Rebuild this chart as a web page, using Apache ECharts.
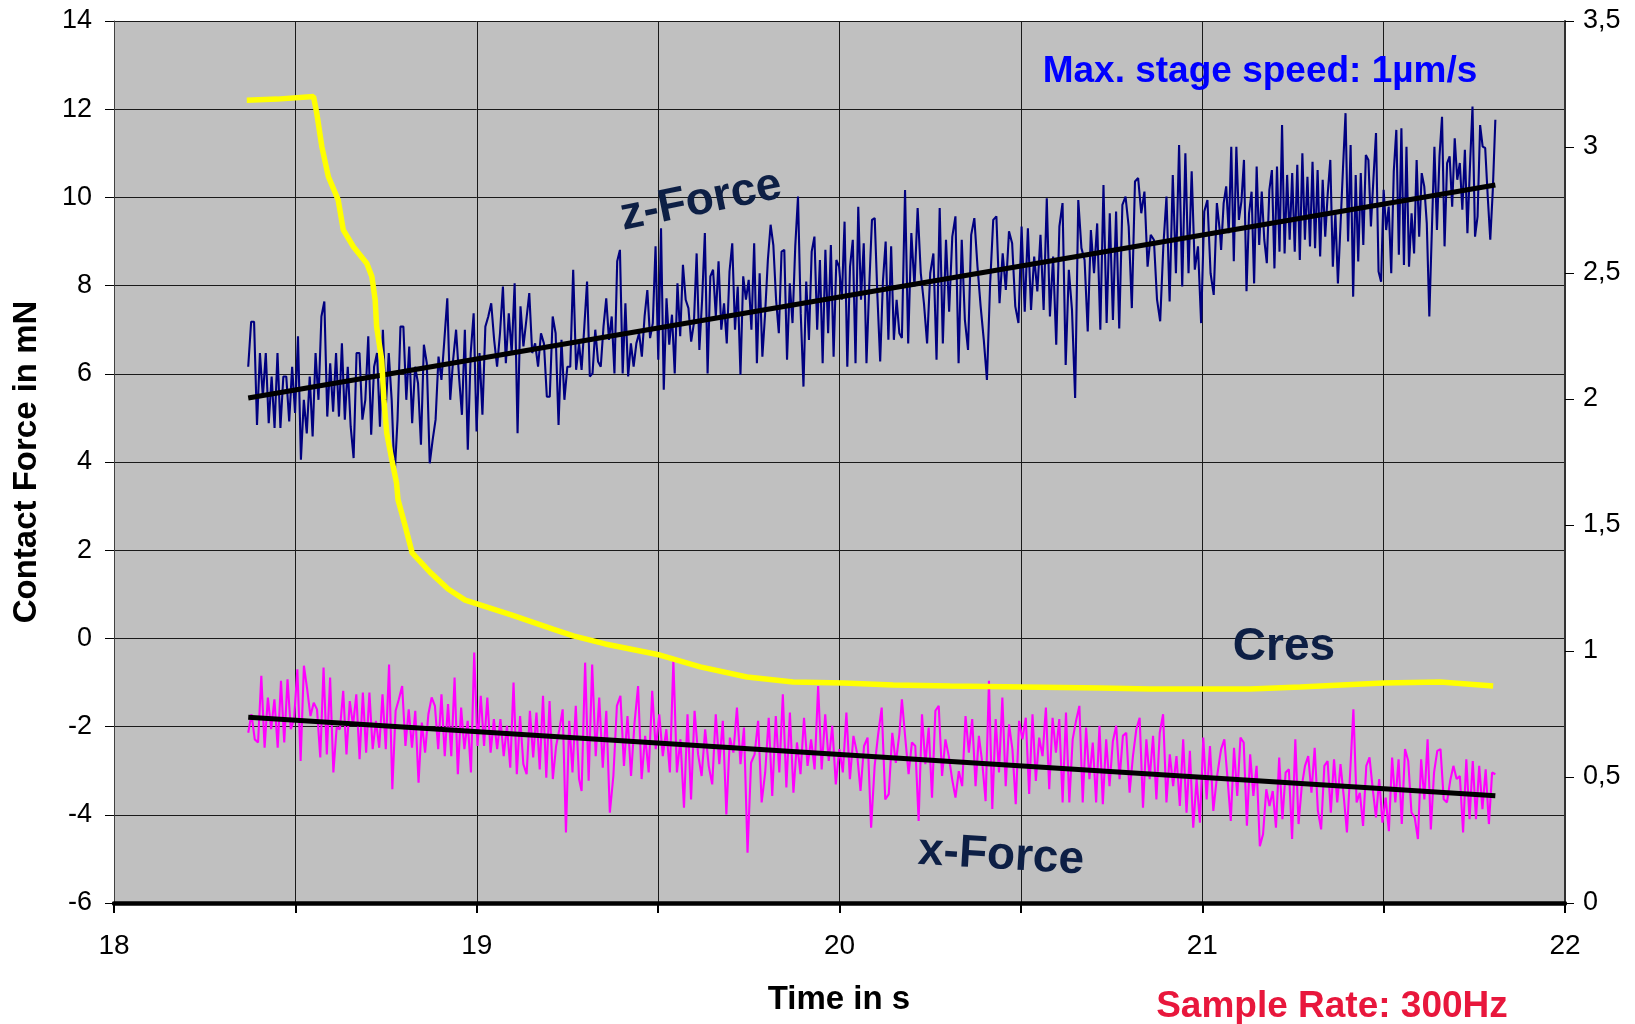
<!DOCTYPE html>
<html>
<head>
<meta charset="utf-8">
<script src="https://cdn.jsdelivr.net/npm/echarts@6/dist/echarts.min.js"></script>
<style>
html,body{margin:0;padding:0;background:#fff;}
#chart{width:1635px;height:1024px;}
</style>
</head>
<body>
<div id="chart"></div>
<script>
// ---------- DATA ----------
// time spans (s) of the four traced segments of the sampled force signals
const segStart = [18.370, 19.289, 20.172, 21.052];
const segEnd   = [19.282, 20.165, 21.049, 21.808];

// z-Force (mN), left axis
const zForce1 = [6.16,7.18,7.18,4.84,6.47,5.48,6.47,4.88,5.94,4.77,6.47,4.77,5.94,5.94,4.92,6.16,5.11,6.85,4.05,5.41,4.65,5.94,4.58,6.47,5.41,7.30,7.64,5.03,6.24,5.14,6.47,5.03,6.69,4.96,6.16,4.80,4.09,6.47,6.47,4.96,5.41,6.85,4.62,6.16,6.47,4.80,7.00,5.26,6.47,5.41,3.67,4.96,7.07,7.07,5.41,6.62,4.88,6.16,5.79,4.39,6.66,6.24,3.97,4.50,4.96,6.39,5.86,6.77,7.71,5.41,6.32,7.00,5.94,5.07,7.00,4.28,6.47,7.37,4.69,6.47,5.07,7.07,7.30,7.60,6.77,6.16,6.92,7.98,6.24,7.37,6.47,8.05,4.65,7.53,6.62,7.22,7.83,6.47,6.69,6.16,6.92,6.69,5.48,5.48,7.30,6.92,4.84,6.77,5.41,6.16,6.16,8.36,6.09,6.69];
const zForce2 = [6.09,7.07,8.09,5.94,6.01,7.00,6.28,6.16,7.07,7.71,6.77,7.30,6.01,8.55,8.81,6.01,7.60,5.94,6.69,6.16,6.69,6.92,6.39,7.30,7.90,6.81,7.15,8.89,6.32,9.30,5.64,7.71,6.66,7.34,6.01,8.05,6.85,8.47,7.68,7.49,6.73,7.15,8.73,6.54,7.68,9.19,6.01,8.21,8.36,7.30,8.55,7.00,7.60,6.69,8.32,8.96,7.00,7.98,5.98,8.21,7.68,8.13,7.00,8.96,6.24,8.28,6.39,7.37,8.58,9.38,8.92,7.68,6.92,8.77,8.81,6.32,8.05,7.15,8.89,10.02,7.37,5.71,8.09,6.77,8.77,9.11,7.00,8.58,6.24,8.81,6.92,8.92,6.39,8.58,8.43,7.68,9.45,6.16,8.43,9.04,6.24,9.79,7.68,8.96,6.24,7.98,9.49,9.53,7.75,6.28,8.09,9.00,6.77,8.89,6.77,7.68,6.92];
const zForce3 = [6.81,10.17,6.69,9.19,7.98,9.76,8.28,7.60,6.69,8.28,8.73,6.32,9.76,6.69,9.04,7.41,9.11,9.57,6.24,9.04,7.22,6.54,9.15,9.53,8.43,7.53,6.77,5.86,8.02,9.49,9.57,7.60,8.73,7.90,9.23,8.96,7.53,7.15,9.34,7.41,9.30,7.45,8.66,7.87,9.15,7.45,9.98,7.30,8.66,6.66,9.34,9.87,6.20,8.36,7.45,5.45,9.94,8.85,8.58,6.96,9.26,8.28,9.41,7.00,10.28,7.15,9.64,7.22,9.68,7.03,9.83,10.02,9.34,7.49,10.36,10.44,9.64,10.13,8.43,9.15,9.04,7.68,7.19,8.89,10.02,7.64,10.51,8.28,11.19,7.98,11.00,8.28,10.59,8.36,8.89,7.15,9.68,9.94,8.28,7.79,9.87,9.19];
const zForce4 = [8.81,9.87,10.25,9.19,11.15,8.55,11.15,9.49,9.91,10.85,7.87,9.64,10.13,8.05,10.70,8.92,10.13,9.04,8.51,10.17,10.62,8.39,10.70,8.77,11.64,8.73,10.51,9.04,10.55,8.77,10.74,8.58,11.00,9.04,10.47,8.89,10.81,8.85,10.62,8.66,10.40,9.11,10.10,10.85,8.43,9.64,8.05,9.34,10.66,11.91,9.00,11.19,7.75,10.51,8.55,10.55,8.92,10.96,10.85,9.34,10.44,11.46,8.32,8.09,10.17,9.26,9.79,8.28,10.59,11.53,8.70,11.57,8.47,11.15,8.43,9.64,8.73,10.85,9.11,10.55,10.25,9.41,7.30,9.26,11.15,9.26,10.93,11.83,8.89,10.78,10.93,9.79,11.34,10.40,10.78,9.72,11.08,9.19,10.70,12.06,9.11,9.57,11.64,11.15,11.12,10.02,9.04,10.17,11.76];

// x-Force (mN), left axis
const xForce1 = [-2.14,-1.72,-2.29,-2.36,-0.85,-2.48,-1.34,-2.06,-1.38,-2.48,-0.96,-2.36,-0.93,-2.06,-1.83,-0.70,-2.78,-0.62,-1.15,-1.76,-1.46,-1.61,-2.70,-0.66,-2.63,-0.89,-3.04,-2.02,-2.06,-1.19,-2.63,-1.42,-1.98,-1.27,-2.74,-1.23,-2.59,-1.23,-2.51,-1.87,-2.48,-1.27,-2.51,-0.59,-3.42,-1.64,-1.38,-1.08,-2.44,-1.61,-2.48,-1.64,-3.27,-1.91,-2.59,-1.72,-1.34,-1.53,-2.51,-1.27,-2.67,-1.49,-2.67,-0.89,-3.08,-1.57,-2.51,-1.87,-3.04,-0.32,-2.44,-1.30,-2.44,-1.34,-2.59,-1.83,-2.51,-1.83,-2.67,-1.98,-2.93,-1.00,-3.08,-1.76,-2.85,-3.08,-1.64,-2.70,-1.68,-2.97,-1.30,-3.16,-1.42,-3.19,-2.44,-2.06,-1.61,-4.40,-1.87,-3.04,-1.53,-3.19];
const xForce2 = [-3.46,-0.55,-3.23,-0.59,-2.67,-1.34,-2.93,-1.64,-3.95,-3.12,-1.53,-1.30,-2.89,-1.76,-3.12,-1.91,-1.08,-3.19,-2.21,-3.04,-1.19,-2.51,-1.72,-2.67,-2.06,-3.04,-0.51,-3.04,-2.29,-3.84,-1.72,-3.65,-1.64,-2.63,-3.12,-2.06,-2.89,-3.31,-1.72,-2.85,-1.87,-3.99,-2.25,-2.59,-1.57,-2.85,-2.02,-4.86,-2.82,-2.63,-1.87,-3.72,-3.04,-1.80,-3.57,-1.76,-3.04,-1.27,-3.38,-1.68,-3.50,-2.36,-3.08,-1.80,-2.89,-2.29,-2.97,-1.08,-2.97,-1.72,-2.78,-1.98,-3.31,-2.51,-3.04,-1.68,-3.19,-2.21,-2.59,-3.46,-2.44,-2.25,-4.29,-2.89,-2.17,-1.57,-3.65,-3.53,-2.14,-2.82,-2.17];
const xForce3 = [-1.38,-2.25,-3.08,-2.36,-2.44,-4.14,-1.72,-2.85,-2.02,-3.61,-1.64,-1.53,-3.12,-2.29,-2.67,-3.19,-3.61,-3.01,-3.35,-1.76,-2.59,-1.83,-3.35,-2.21,-2.82,-3.69,-0.96,-3.87,-1.83,-3.04,-1.34,-3.35,-1.95,-2.51,-3.76,-1.87,-2.29,-1.80,-3.53,-1.72,-3.23,-2.25,-2.67,-1.57,-3.42,-1.80,-2.59,-1.83,-3.72,-1.68,-3.72,-2.29,-1.87,-1.53,-3.72,-2.02,-3.19,-2.36,-3.72,-1.98,-3.76,-2.29,-3.35,-2.33,-1.98,-3.19,-2.21,-2.14,-3.50,-2.67,-2.06,-1.80,-3.84,-2.29,-3.19,-2.21,-3.65,-2.14,-1.72,-3.72,-2.63,-3.35,-2.67,-3.80,-2.29,-3.95,-2.55,-4.29,-3.19,-4.18,-2.25,-3.65,-2.44,-3.91,-3.19,-2.67];
const xForce4 = [-2.51,-2.29,-3.19,-4.14,-2.48,-3.57,-2.25,-2.36,-4.25,-2.63,-3.57,-2.89,-4.71,-4.44,-3.42,-3.80,-3.46,-4.29,-2.70,-4.10,-3.04,-2.97,-4.55,-2.29,-4.21,-3.35,-2.89,-2.67,-3.50,-2.48,-3.91,-4.33,-2.89,-2.78,-3.95,-2.74,-3.72,-2.85,-3.57,-4.40,-3.04,-1.61,-3.72,-3.50,-4.25,-2.89,-2.70,-3.42,-4.06,-3.19,-4.18,-3.61,-4.37,-2.70,-3.72,-2.74,-4.21,-2.51,-2.78,-3.95,-4.06,-4.55,-2.74,-3.65,-2.29,-4.33,-3.04,-2.55,-2.51,-3.65,-3.72,-3.23,-2.89,-3.19,-3.12,-4.40,-2.74,-4.10,-2.78,-4.10,-2.89,-3.87,-2.97,-4.21,-3.04,-3.08];

// Cres (right axis)
const cresT = [18.366,18.45,18.55,18.559,18.573,18.591,18.618,18.632,18.660,18.697,18.711,18.720,18.724,18.738,18.744,18.752,18.766,18.779,18.783,18.802,18.822,18.871,18.921,18.968,19.009,19.095,19.210,19.266,19.354,19.505,19.616,19.745,19.872,20.010,20.148,20.305,20.506,20.719,20.856,21.030,21.132,21.270,21.499,21.656,21.802];
const cresV = [3.186,3.19,3.20,3.134,3.001,2.882,2.790,2.671,2.604,2.538,2.485,2.393,2.287,2.155,1.996,1.864,1.758,1.666,1.600,1.500,1.389,1.313,1.246,1.202,1.183,1.143,1.087,1.060,1.028,0.984,0.937,0.897,0.877,0.873,0.865,0.861,0.857,0.853,0.849,0.849,0.849,0.857,0.873,0.877,0.861];

// linear trend lines
const trendT = [18.37, 21.808];
const zTrend = [5.45, 10.28];
const xTrend = [-1.79, -3.57];

// axis tick values
const leftTicks = [-6,-4,-2,0,2,4,6,8,10,12,14];
const rightTicks = ['0','0,5','1','1,5','2','2,5','3','3,5'];
const timeTicks = [18,19,20,21,22];

// ---------- BUILD ----------
function segment(vals, k){
  const t0 = segStart[k], t1 = segEnd[k], n = vals.length;
  return vals.map((v,i)=>[t0 + (t1-t0)*i/(n-1), v]);
}
const zData = [].concat(segment(zForce1,0),segment(zForce2,1),segment(zForce3,2),segment(zForce4,3));
const xData = [].concat(segment(xForce1,0),segment(xForce2,1),segment(xForce3,2),segment(xForce4,3));
const cresData = cresT.map((t,i)=>[t,cresV[i]]);
const zTrendData = trendT.map((t,i)=>[t,zTrend[i]]);
const xTrendData = trendT.map((t,i)=>[t,xTrend[i]]);

const FF = '"Liberation Sans", Arial, Helvetica, sans-serif';
const chart = echarts.init(document.getElementById('chart'), null, {renderer:'canvas'});

function txt(text, x, y, size, color, rot){
  return {type:'text', x:x, y:y, rotation:rot||0, z:100,
    style:{text:text, x:0, y:0, fill:color, font:'bold '+size+'px '+FF,
      textAlign:'center', align:'center', textVerticalAlign:'middle', verticalAlign:'middle'}};
}

const option = {
  animation:false,
  backgroundColor:'#ffffff',
  textStyle:{fontFamily:FF},
  grid:{left:114,right:70,top:21,bottom:121,show:true,backgroundColor:'#C0C0C0',borderWidth:0,containLabel:false},
  xAxis:{
    type:'value',min:18,max:22,interval:0.5,
    axisLine:{show:true,onZero:false,lineStyle:{color:'#000',width:4.5}},
    axisTick:{show:true,length:10,inside:false,lineStyle:{color:'#000',width:2}},
    axisLabel:{show:true,fontSize:28,color:'#000',margin:29,fontFamily:FF,
      formatter:function(v){return timeTicks.indexOf(v)>=0 ? String(v) : '';}},
    splitLine:{show:true,lineStyle:{color:'#1a1a1a',width:1}}
  },
  yAxis:[
    {type:'value',min:-6,max:14,interval:2,position:'left',
      axisLine:{show:true,onZero:false,lineStyle:{color:'#404040',width:1}},
      axisTick:{show:true,length:9,lineStyle:{color:'#000',width:1}},
      axisLabel:{show:true,fontSize:27,color:'#000',margin:22,fontFamily:FF,
        formatter:function(v){return leftTicks.indexOf(v)>=0 ? String(v) : '';}},
      splitLine:{show:true,lineStyle:{color:'#1a1a1a',width:1}}},
    {type:'value',min:0,max:3.5,interval:0.5,position:'right',
      axisLine:{show:true,onZero:false,lineStyle:{color:'#303030',width:2}},
      axisTick:{show:true,length:9,lineStyle:{color:'#000',width:1}},
      axisLabel:{show:true,fontSize:27,color:'#000',margin:18,fontFamily:FF,
        formatter:function(v){const i=Math.round(v/0.5); return rightTicks[i]||'';}},
      splitLine:{show:false}}
  ],
  series:[
    {name:'z-Force',type:'line',yAxisIndex:0,data:zData,showSymbol:false,symbol:'none',
      lineStyle:{color:'#000080',width:2.1},itemStyle:{color:'#000080'},z:2,silent:true},
    {name:'x-Force',type:'line',yAxisIndex:0,data:xData,showSymbol:false,symbol:'none',
      lineStyle:{color:'#FF00FF',width:2.1},itemStyle:{color:'#FF00FF'},z:2,silent:true},
    {name:'z-Trend',type:'line',yAxisIndex:0,data:zTrendData,showSymbol:false,symbol:'none',
      lineStyle:{color:'#000',width:5},z:3,silent:true},
    {name:'x-Trend',type:'line',yAxisIndex:0,data:xTrendData,showSymbol:false,symbol:'none',
      lineStyle:{color:'#000',width:5},z:3,silent:true},
    {name:'Cres',type:'line',yAxisIndex:1,data:cresData,showSymbol:false,symbol:'none',
      lineStyle:{color:'#FFFF00',width:5.5},z:4,silent:true}
  ],
  graphic:[
    txt('Contact Force in mN', 27, 462, 33, '#000', Math.PI/2),
    txt('Time in s', 839, 1000, 33, '#000', 0),
    txt('Sample Rate: 300Hz', 1332, 1007, 37, '#E8173C', 0),
    txt('Max. stage speed: 1µm/s', 1260, 72, 37, '#0000FF', 0),
    txt('z-Force', 701, 201, 46, '#0D1F45', 0.2),
    txt('x-Force', 1001, 856, 46, '#0D1F45', -0.06),
    txt('Cres', 1284, 647, 46, '#0D1F45', 0)
  ]
};
chart.setOption(option);
</script>
</body>
</html>
